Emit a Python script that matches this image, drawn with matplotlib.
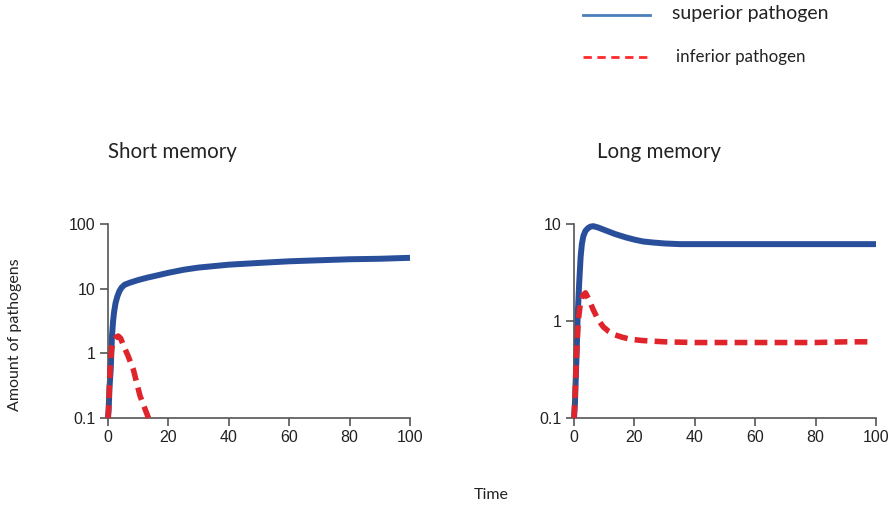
import numpy as np
import matplotlib
matplotlib.use("Agg")
import matplotlib.pyplot as plt
from matplotlib.lines import Line2D

# Short memory: values
t_corto_sup = [0, 0.2, 0.5, 0.9, 1.3, 1.7, 2.0, 2.5, 3.1, 3.8, 4.5, 5.5, 7.3, 10, 13, 16.7,
               20, 25, 30, 40, 50, 60, 70, 80, 90, 100]
corto_sup = [0.1, 0.13, 0.3, 0.56, 1.8, 3.2, 4.3, 6.0, 7.6, 9.2, 10.4, 11.5, 12.4, 13.6,
             14.8, 16.2, 17.6, 19.6, 21.2, 23.5, 25, 26.5, 27.5, 28.5, 29, 30]
t_corto_inf = [0, 0.2, 0.7, 1.2, 2.0, 2.8, 3.4, 4.2, 5.2, 6.7, 8.4, 10.6, 13.4]
corto_inf = [0.1, 0.14, 0.56, 1.2, 1.6, 1.8, 1.85, 1.7, 1.3, 0.9, 0.56, 0.22, 0.1]

# Long memory
t_largo_sup = [0, 0.3, 0.9, 1.2, 1.7, 2.2, 2.6, 3.1, 3.8, 4.7, 5.5, 6.4, 8, 10, 13.5, 17,
               20, 22.9, 26, 30, 35, 40, 50, 60, 70, 80, 90, 100]
largo_sup = [0.1, 0.14, 0.5, 1.1, 2.4, 4.6, 6.2, 7.5, 8.5, 9.1, 9.4, 9.5, 9.2, 8.7, 7.9, 7.3,
             6.9, 6.6, 6.45, 6.3, 6.2, 6.2, 6.2, 6.2, 6.2, 6.2, 6.2, 6.2]
t_largo_inf = [0, 0.3, 0.9, 1.4, 2.2, 3.0, 3.8, 5.0, 6.4, 8, 9.7, 11.5, 13.5, 16, 18.5, 22.4,
               26, 30, 40, 50, 60, 70, 80, 90, 98]
largo_inf = [0.1, 0.15, 0.5, 1.0, 1.6, 1.85, 1.95, 1.65, 1.3, 1.03, 0.87, 0.78, 0.72, 0.68,
             0.65, 0.63, 0.62, 0.61, 0.6, 0.6, 0.6, 0.6, 0.6, 0.61, 0.61]

azul = "#2a4f9a"
rojo = "#e0242b"
fuente_txt = "Lato"
fuente_num = "Liberation Sans"

fig = plt.figure(figsize=(8.95, 5.07), dpi=100)
ax1 = fig.add_axes([108/895, 1 - 418/507, 302/895, 194/507])
ax2 = fig.add_axes([574/895, 1 - 418/507, 302/895, 194/507])


def dibujar(ax, t_sup, sup, t_inf, inf, ylim, yticks, ylabels):
    ax.plot(t_sup, sup, color=azul, lw=4.3, solid_capstyle="butt",
            solid_joinstyle="round", zorder=2)
    ax.plot(t_inf, inf, color=rojo, lw=4.0, dashes=(2.3, 1.3), zorder=3)
    ax.set_yscale("log")
    ax.set_xlim(0, 100)
    ax.set_ylim(*ylim)
    ax.set_yticks(yticks)
    ax.set_yticklabels(ylabels)
    ax.minorticks_off()
    ax.set_xticks([0, 20, 40, 60, 80, 100])
    for s in ["top", "right"]:
        ax.spines[s].set_visible(False)
    for s in ["left", "bottom"]:
        ax.spines[s].set_color("#555555")
        ax.spines[s].set_linewidth(1.2)
    ax.tick_params(length=6, width=1.2, color="#555555", labelsize=11.5,
                   labelcolor="#222222", pad=3)
    for lab in ax.get_xticklabels() + ax.get_yticklabels():
        lab.set_family(fuente_num)
    for ln in ax.lines:
        ln.set_clip_on(False)


dibujar(ax1, t_corto_sup, corto_sup, t_corto_inf, corto_inf,
        (0.1, 100), [0.1, 1, 10, 100], ["0.1", "1", "10", "100"])
dibujar(ax2, t_largo_sup, largo_sup, t_largo_inf, largo_inf,
        (0.1, 10), [0.1, 1, 10], ["0.1", "1", "10"])

fig.text(108/895, 1 - 152/507, "Short memory", family=fuente_txt, fontsize=14.8,
         color="#222222", va="center", ha="left")
fig.text(597/895, 1 - 152/507, "Long memory", family=fuente_txt, fontsize=14.8,
         color="#222222", va="center", ha="left")
fig.text(15/895, 1 - 335/507, "Amount of pathogens", family=fuente_txt, fontsize=11.5,
         color="#222222", rotation=90, va="center", ha="center")
fig.text(491/895, 1 - 495/507, "Time", family=fuente_txt, fontsize=11.5,
         color="#222222", va="center", ha="center")

# leyenda
fig.add_artist(Line2D([583/895, 650/895], [1 - 15/507, 1 - 15/507],
                      transform=fig.transFigure, color="#4a7ebb", lw=2))
fig.add_artist(Line2D([583/895, 650/895], [1 - 57/507, 1 - 57/507],
                      transform=fig.transFigure, color="#ff2a2a", lw=2, dashes=(3, 2)))
fig.text(672/895, 1 - 14/507, "superior pathogen", family=fuente_txt, fontsize=14,
         color="#222222", va="center", ha="left")
fig.text(676/895, 1 - 57/507, "inferior pathogen", family=fuente_txt, fontsize=12.2,
         color="#222222", va="center", ha="left")

fig.savefig("out.png", dpi=100)
